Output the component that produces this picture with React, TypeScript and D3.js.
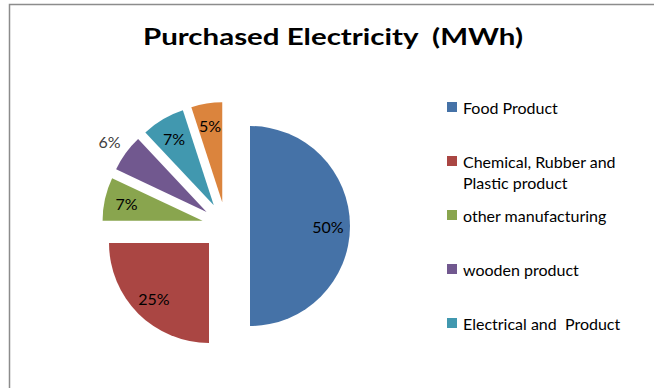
import React from "react";
import * as d3 from "d3";

const categories = [
  "Food Product",
  "Chemical, Rubber and Plastic product",
  "other manufacturing",
  "wooden product",
  "Electrical and  Product",
  "Other",
];
const legendLines = [
  ["Food Product"],
  ["Chemical, Rubber and", "Plastic product"],
  ["other manufacturing"],
  ["wooden product"],
  ["Electrical and  Product"],
];
const values = [50, 25, 7, 6, 7, 5];
const colors = ["#4572A7", "#AA4643", "#89A54E", "#71588F", "#4198AF", "#DB843D"];
const labelOutside = [false, false, false, true, false, false];
const title = "Purchased Electricity  (MWh)";

export default function App() {
  const W = 654, H = 388;
  const cx = 226, cy = 226, r = 100, explode = 24;
  const pie = d3.pie<number>().sort(null).startAngle(0).endAngle(2 * Math.PI);
  const arcs = pie(values);
  const arc = d3.arc<d3.PieArcDatum<number>>().innerRadius(0).outerRadius(r);
  const total = d3.sum(values);
  const font = "Lato, 'Open Sans', sans-serif";

  return (
    <svg width={W} height={H} style={{ position: "absolute", left: 0, top: 0 }}>
      <rect x={0} y={0} width={W} height={H} fill="#fff" />
      <rect x={9.5} y={4.5} width={800} height={500} fill="#fff" stroke="#8c8c8c" strokeWidth={1.5} />
      <text
        x={143}
        y={45}
        textLength={380}
        lengthAdjust="spacingAndGlyphs"
        fontFamily={font}
        fontWeight="bold"
        fontSize={22}
        fill="#000"
        style={{ whiteSpace: "pre" }}
      >
        {title}
      </text>
      {arcs.map((a, i) => {
        const mid = (a.startAngle + a.endAngle) / 2;
        const dx = Math.sin(mid), dy = -Math.cos(mid);
        const ox = cx + explode * dx, oy = cy + explode * dy;
        const lr = labelOutside[i] ? 1.2 * r : 0.78 * r;
        const pct = Math.round((values[i] / total) * 100) + "%";
        return (
          <g key={i}>
            <path d={arc(a) || ""} transform={`translate(${ox},${oy})`} fill={colors[i]} />
            <text
              x={ox + lr * dx}
              y={oy + lr * dy}
              textAnchor="middle"
              dominantBaseline="central"
              fontFamily={font}
              fontSize={16}
              fill={labelOutside[i] ? "#404040" : "#000"}
            >
              {pct}
            </text>
          </g>
        );
      })}
      {legendLines.map((lines, i) => {
        const y = 107 + i * 54;
        return (
          <g key={i}>
            <rect x={447} y={y - 5} width={10} height={10} fill={colors[i]} />
            {lines.map((ln, j) => (
              <text
                key={j}
                x={463}
                y={y + j * 21}
                dominantBaseline="central"
                fontFamily={font}
                fontSize={16}
                fill="#000"
                style={{ whiteSpace: "pre" }}
              >
                {ln}
              </text>
            ))}
          </g>
        );
      })}
    </svg>
  );
}
